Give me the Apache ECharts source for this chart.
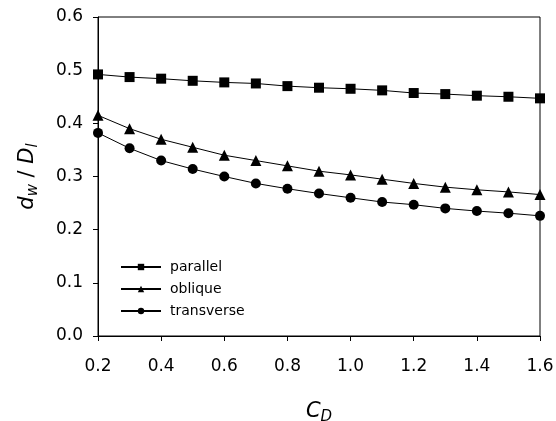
<!DOCTYPE html>
<html>
<head>
<meta charset="utf-8">
<script src="https://cdn.jsdelivr.net/npm/echarts@6/dist/echarts.min.js"></script>
<style>html,body{margin:0;padding:0;background:#fff;}#c{width:556px;height:421px;}</style>
</head>
<body>
<div id="c"></div>
<script>
var cd = [0.2,0.3,0.4,0.5,0.6,0.7,0.8,0.9,1.0,1.1,1.2,1.3,1.4,1.5,1.6];
var parallel = [0.492,0.487,0.484,0.480,0.477,0.475,0.470,0.467,0.465,0.462,0.457,0.455,0.452,0.450,0.447];
var oblique = [0.415,0.390,0.370,0.355,0.340,0.330,0.320,0.310,0.303,0.295,0.287,0.280,0.275,0.271,0.266];
var transverse = [0.382,0.353,0.330,0.314,0.300,0.287,0.277,0.268,0.260,0.252,0.247,0.240,0.235,0.231,0.226];
var seriesNames = ['parallel','oblique','transverse'];

function pairs(v){ return cd.map(function(x,i){ return [x, v[i]]; }); }

var chart = echarts.init(document.getElementById('c'), null, {renderer:'canvas'});
var font = 'DejaVu Sans, sans-serif';
function ser(name, data, sym, size){
  return {name:name, type:'line', data:pairs(data), symbol:sym, symbolSize:size,
    showAllSymbol:true, itemStyle:{color:'#000'}, lineStyle:{color:'#000', width:1}, emphasis:{disabled:true}, z:3};
}
chart.setOption({
  animation:false,
  backgroundColor:'#fff',
  grid:{left:98, right:16, top:17, bottom:85, show:true, borderColor:'#000', borderWidth:1,
        containLabel:false, outerBoundsMode:'none'},
  legend:{
    orient:'vertical', left:115, top:255, itemWidth:40, itemHeight:8, itemGap:8,
    data:seriesNames,
    textStyle:{fontFamily:font, fontSize:14, color:'#000', padding:[0,0,0,4]}
  },
  xAxis:{
    type:'value', min:0.2, max:1.6, interval:0.2,
    axisLine:{lineStyle:{color:'#000', width:1}},
    axisTick:{show:true, length:5, inside:false, lineStyle:{color:'#000'}},
    splitLine:{show:false},
    axisLabel:{fontFamily:font, fontSize:17, color:'#000', margin:22, formatter:function(v){return v.toFixed(1);}},
    name:'{i|C}{s|D}', nameLocation:'middle', nameGap:62,
    nameTextStyle:{rich:{
      i:{fontFamily:font, fontSize:21, fontStyle:'italic', color:'#000'},
      s:{fontFamily:font, fontSize:15, fontStyle:'italic', color:'#000', padding:[12,0,0,0]}
    }}
  },
  yAxis:{
    type:'value', min:0, max:0.6, interval:0.1,
    axisLine:{lineStyle:{color:'#000', width:1}},
    axisTick:{show:true, length:5, inside:false, lineStyle:{color:'#000'}},
    splitLine:{show:false},
    axisLabel:{fontFamily:font, fontSize:17, color:'#000', margin:15, formatter:function(v){return v.toFixed(1);}},
    name:'{i|d}{s|w}{n| / }{i|D}{s|l}', nameLocation:'middle', nameGap:57, nameRotate:90,
    nameTextStyle:{rich:{
      i:{fontFamily:font, fontSize:21, fontStyle:'italic', color:'#000'},
      n:{fontFamily:font, fontSize:21, color:'#000'},
      s:{fontFamily:font, fontSize:15, fontStyle:'italic', color:'#000', padding:[12,0,0,0]}
    }}
  },
  series:[
    ser('parallel', parallel, 'rect', 10),
    ser('oblique', oblique, 'triangle', 11),
    ser('transverse', transverse, 'circle', 10)
  ]
});
</script>
</body>
</html>
